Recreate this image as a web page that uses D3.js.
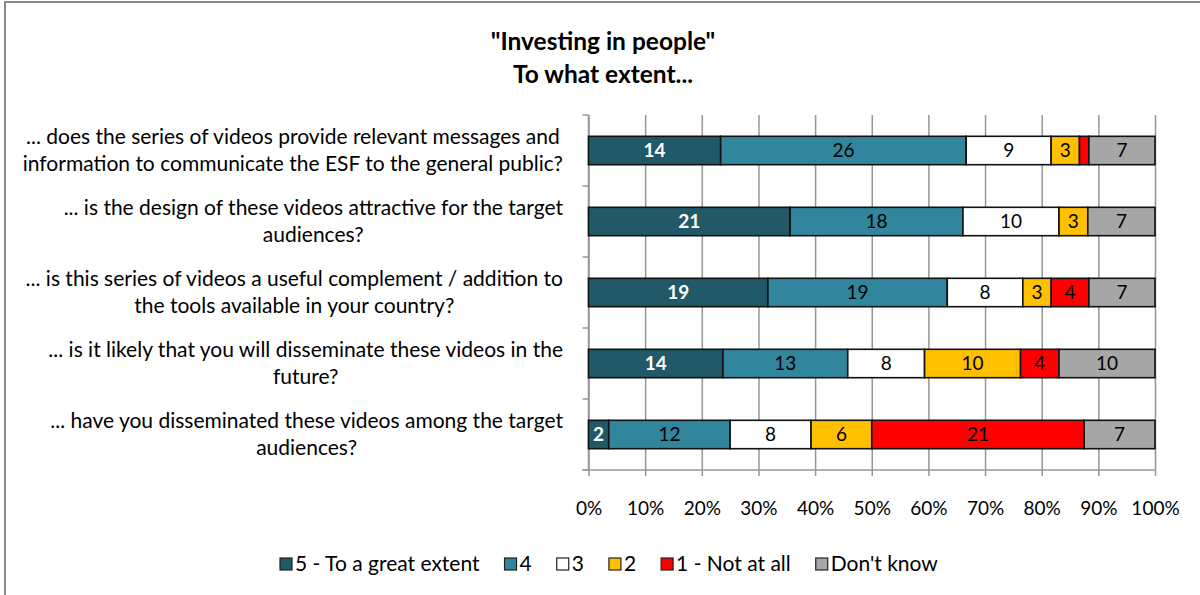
<!DOCTYPE html>
<html>
<head>
<meta charset="utf-8">
<script src="https://cdn.jsdelivr.net/npm/d3@7"></script>
<style>
  html, body { margin: 0; padding: 0; background: #fff; }
  svg { display: block; font-family: Lato, "Open Sans", sans-serif; }
</style>
</head>
<body>
<svg id="chart" width="1200" height="595"></svg>
<script>
// Survey questions (each entry is a list of wrapped lines)
const questions = [
  ["... does the series of videos provide relevant messages and", "information to communicate the ESF to the general public?"],
  ["... is the design of these videos attractive for the target", "audiences?"],
  ["... is this series of videos a useful complement / addition to", "the tools available in your country?"],
  ["... is it likely that you will disseminate these videos in the", "future?"],
  ["... have you disseminated these videos among the target", "audiences?"]
];

// Answer categories (legend order)
const answerNames = ["5 - To a great extent", "4", "3", "2", "1 - Not at all", "Don't know"];

// Number of respondents per answer, one value per question
const greatExtent = [14, 21, 19, 14, 2];
const four        = [26, 18, 19, 13, 12];
const three       = [9, 10, 8, 8, 8];
const two         = [3, 3, 3, 10, 6];
const notAtAll    = [1, 0, 4, 4, 21];
const dontKnow    = [7, 7, 7, 10, 7];

const percentTicks = [0, 0.1, 0.2, 0.3, 0.4, 0.5, 0.6, 0.7, 0.8, 0.9, 1.0];

const answerColors = ["#215968", "#31859C", "#FFFFFF", "#FFC000", "#FF0000", "#A6A6A6"];
const seriesValues = [greatExtent, four, three, two, notAtAll, dontKnow];

// Build rows for d3.stack with shares of the row total
const rows = questions.map((q, i) => {
  const total = d3.sum(seriesValues, s => s[i]);
  const row = { idx: i, total };
  answerNames.forEach((name, k) => { row[name] = seriesValues[k][i] / total; row["n_" + name] = seriesValues[k][i]; });
  return row;
});
const stacked = d3.stack().keys(answerNames)(rows);

const svg = d3.select("#chart");

// Outer chart frame
svg.append("rect")
  .attr("x", 5).attr("y", 2).attr("width", 1400).attr("height", 800)
  .attr("fill", "none").attr("stroke", "#8a8a8a").attr("stroke-width", 2);

// Title
const title = svg.append("text")
  .attr("text-anchor", "middle")
  .attr("font-weight", "bold").attr("font-size", 24.5).attr("fill", "#000");
title.append("tspan").attr("x", 603).attr("y", 50).text("\"Investing in people\"");
title.append("tspan").attr("x", 603).attr("y", 83).text("To what extent...");

const plot = { left: 588.5, right: 1155, top: 115, bottom: 470 };

const x = d3.scaleLinear().domain([0, 1]).range([plot.left, plot.right]);
const y = d3.scaleBand()
  .domain(rows.map(r => r.idx))
  .range([plot.top, plot.bottom])
  .paddingInner(0.6).paddingOuter(0.3);

// Vertical gridlines with percentage labels underneath
const xAxis = d3.axisBottom(x)
  .tickValues(percentTicks)
  .tickFormat(d3.format(".0%"))
  .tickSize(-(plot.bottom - plot.top))
  .tickSizeOuter(0)
  .tickPadding(0);
const gx = svg.append("g")
  .attr("transform", `translate(0,${plot.bottom})`)
  .call(xAxis);
gx.select(".domain").remove();
gx.selectAll(".tick line").attr("stroke", "#969696").attr("stroke-width", 1.5).attr("y2", -(plot.bottom - plot.top)).attr("y1", 6);
gx.selectAll(".tick text")
  .attr("y", 38).attr("dy", "0.35em")
  .attr("font-size", 19).attr("font-family", "Lato, sans-serif").attr("fill", "#000");

// Bottom baseline
svg.append("line")
  .attr("x1", plot.left - 6).attr("x2", plot.right)
  .attr("y1", plot.bottom).attr("y2", plot.bottom)
  .attr("stroke", "#969696").attr("stroke-width", 1.5);

// Category axis line with tick marks between bands
svg.append("line")
  .attr("x1", plot.left).attr("x2", plot.left)
  .attr("y1", plot.top).attr("y2", plot.bottom)
  .attr("stroke", "#969696").attr("stroke-width", 1.5);
const boundaries = d3.range(rows.length + 1).map(i => plot.top + i * (plot.bottom - plot.top) / rows.length);
svg.append("g").selectAll("line").data(boundaries).join("line")
  .attr("x1", plot.left - 6).attr("x2", plot.left)
  .attr("y1", d => d).attr("y2", d => d)
  .attr("stroke", "#969696").attr("stroke-width", 1.5);

// Stacked bars
const layers = svg.append("g").selectAll("g").data(stacked).join("g")
  .attr("fill", (d, i) => answerColors[i]);
layers.selectAll("rect").data(d => d.filter(p => p[1] - p[0] > 0)).join("rect")
  .attr("x", p => x(p[0]))
  .attr("y", p => y(p.data.idx))
  .attr("width", p => x(p[1]) - x(p[0]))
  .attr("height", y.bandwidth())
  .attr("stroke", "#111").attr("stroke-width", 1.6);

// Segment value labels
stacked.forEach((layer, k) => {
  svg.append("g").selectAll("text")
    .data(layer.filter(p => x(p[1]) - x(p[0]) > 14))
    .join("text")
    .attr("x", p => (x(p[0]) + x(p[1])) / 2)
    .attr("y", p => y(p.data.idx) + y.bandwidth() / 2)
    .attr("dy", "0.36em")
    .attr("text-anchor", "middle")
    .attr("font-size", 19)
    .attr("font-weight", k === 0 ? "bold" : "normal")
    .attr("fill", k === 0 ? "#fff" : "#000")
    .text(p => p.data["n_" + layer.key]);
});

// Question labels: each block centred on itself, right edge aligned next to the axis
const labelRight = 563;
const labelG = svg.append("g").attr("font-size", 21).attr("fill", "#000");
questions.forEach((lines, i) => {
  const cy = y(i) + y.bandwidth() / 2;
  const t = labelG.append("text").attr("text-anchor", "middle");
  const spans = lines.map((ln, j) => t.append("tspan")
    .attr("y", cy + (j - (lines.length - 1) / 2) * 27)
    .attr("dy", "0.35em")
    .text(ln));
  const w = d3.max(spans, s => s.node().getComputedTextLength());
  spans.forEach(s => s.attr("x", labelRight - w / 2));
});

// Legend
const legendItems = answerNames.map((name, i) => ({ name, color: answerColors[i] }));
const legend = svg.append("g").attr("font-size", 21);
let lx = 280;
const ly = 564;
legendItems.forEach(item => {
  legend.append("rect")
    .attr("x", lx).attr("y", ly - 6).attr("width", 12).attr("height", 12)
    .attr("fill", item.color).attr("stroke", "#222").attr("stroke-width", 1.2);
  const t = legend.append("text")
    .attr("x", lx + 15).attr("y", ly).attr("dy", "0.35em")
    .text(item.name);
  lx += 15 + t.node().getComputedTextLength() + 25;
});
</script>
</body>
</html>
